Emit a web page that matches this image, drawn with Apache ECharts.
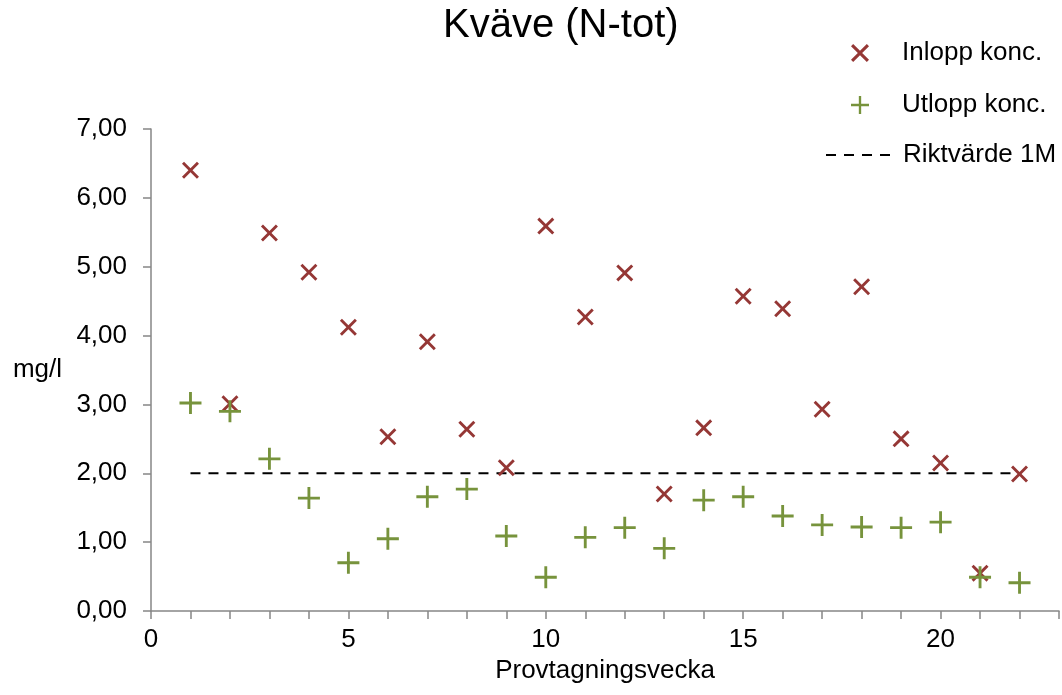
<!DOCTYPE html>
<html>
<head>
<meta charset="utf-8">
<script src="https://cdn.jsdelivr.net/npm/echarts@6/dist/echarts.min.js"></script>
<style>html,body{margin:0;padding:0;background:#fff}#c{width:1062px;height:695px}</style>
</head>
<body>
<div id="c"></div>
<script>
const weeks = [1,2,3,4,5,6,7,8,9,10,11,12,13,14,15,16,17,18,19,20,21,22];
const inlopp = [6.40,3.01,5.49,4.92,4.12,2.53,3.91,2.64,2.08,5.59,4.27,4.91,1.70,2.66,4.57,4.39,2.93,4.71,2.50,2.15,0.55,1.99];
const utlopp = [3.02,2.90,2.21,1.64,0.70,1.05,1.66,1.77,1.09,0.49,1.07,1.21,0.91,1.61,1.66,1.38,1.25,1.22,1.21,1.29,0.49,0.41];
const riktX = [1,22];
const riktY = [2.0,2.0];
const yTicks = [0,1,2,3,4,5,6,7];

const FONT = 'Liberation Sans, Arial, sans-serif';
const RED = '#953735';
const GREEN = '#77933c';
const AXIS = '#868686';
const X_PATH = 'path://M0,12L12,0L50,38L88,0L100,12L62,50L100,88L88,100L50,62L12,100L0,88L38,50Z';
const PLUS_PATH = 'path://M43.5,0H56.5V43.5H100V56.5H56.5V100H43.5V56.5H0V43.5H43.5Z';

const chart = echarts.init(document.getElementById('c'), null, {renderer:'canvas'});
chart.setOption({
  animation:false,
  backgroundColor:'#fff',
  textStyle:{fontFamily:FONT},
  title:{text:'Kväve (N-tot)', left:443, top:6, padding:0,
    textStyle:{fontFamily:FONT, fontSize:40, fontWeight:'normal', color:'#000'}},
  legend:[
    {data:['Inlopp konc.'], left:851, top:40, padding:0, itemWidth:18, itemHeight:18,
      textStyle:{fontFamily:FONT, fontSize:26, color:'#000', padding:[0,0,0,28]}},
    {data:['Utlopp konc.'], left:851, top:92, padding:0, itemWidth:18, itemHeight:18,
      textStyle:{fontFamily:FONT, fontSize:26, color:'#000', padding:[0,0,0,28]}},
    {data:['Riktvärde 1M'], left:825, top:142, padding:0, itemWidth:64, itemHeight:18,
      itemStyle:{opacity:0},
      textStyle:{fontFamily:FONT, fontSize:26, color:'#000', padding:[0,0,0,8]}}
  ],
  grid:{left:151, right:-5, top:129, bottom:84, containLabel:false},
  xAxis:{type:'value', min:0, max:23, interval:1,
    name:'Provtagningsvecka', nameLocation:'middle', nameGap:46,
    nameTextStyle:{fontFamily:FONT, fontSize:26, color:'#000'},
    axisLine:{show:true, lineStyle:{color:AXIS, width:1.5}},
    axisTick:{show:true, inside:false, length:8, lineStyle:{color:AXIS, width:1.5}},
    axisLabel:{margin:16, fontFamily:FONT, fontSize:26, color:'#000',
      formatter:v => (v % 5 === 0 && v <= 20) ? String(v) : ''},
    splitLine:{show:false}},
  yAxis:{type:'value', min:yTicks[0], max:yTicks[yTicks.length-1], interval:1,
    name:'mg/l', nameLocation:'middle', nameRotate:0, nameGap:89,
    nameTextStyle:{fontFamily:FONT, fontSize:26, color:'#000', align:'right', padding:[6,0,0,0]},
    axisLine:{show:true, lineStyle:{color:AXIS, width:1.5}},
    axisTick:{show:true, inside:false, length:8, lineStyle:{color:AXIS, width:1.5}},
    axisLabel:{margin:24, fontFamily:FONT, fontSize:26, color:'#000',
      formatter:v => v.toFixed(2).replace('.', ',')},
    splitLine:{show:false}},
  series:[
    {name:'Inlopp konc.', type:'scatter', symbol:X_PATH, symbolSize:17,
      itemStyle:{color:RED, opacity:1}, data:weeks.map((w,i)=>[w,inlopp[i]]), z:3},
    {name:'Utlopp konc.', type:'scatter', symbol:PLUS_PATH, symbolSize:22,
      itemStyle:{color:GREEN, opacity:1}, data:weeks.map((w,i)=>[w,utlopp[i]]), z:4},
    {name:'Riktvärde 1M', type:'line', symbol:'none', showSymbol:false,
      lineStyle:{color:'#000', width:2, type:[10,8]}, itemStyle:{color:'#000'},
      data:riktX.map((x,i)=>[x,riktY[i]]), z:2}
  ]
});
</script>
</body>
</html>
